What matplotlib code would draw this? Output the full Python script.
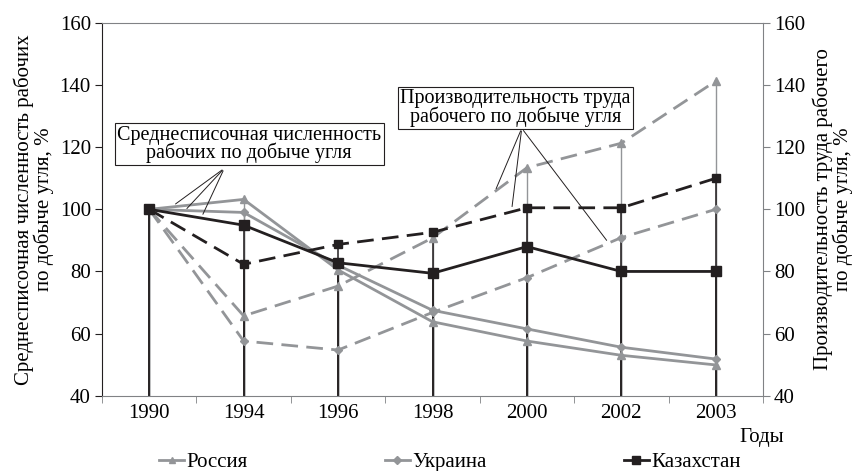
import matplotlib
matplotlib.use("Agg")
import matplotlib.pyplot as plt

plt.rcParams['font.family'] = ['Liberation Serif', 'DejaVu Serif']

# Данные (1990 = 100%)
years = ['1990', '1994', '1996', '1998', '2000', '2002', '2003']
rus_emp = [100, 103.2, 80.5, 63.8, 57.6, 53.0, 49.9]
ukr_emp = [100, 99.0, 82.0, 67.5, 61.5, 55.6, 51.8]
kaz_emp = [100, 94.9, 82.8, 79.4, 88.0, 80.0, 80.0]
rus_prod = [100, 65.7, 75.3, 90.8, 113.4, 121.3, 141.3]
ukr_prod = [100, 57.6, 54.7, 66.8, 78.0, 90.9, 100.0]
kaz_prod = [100, 82.3, 88.7, 92.6, 100.5, 100.5, 110.0]

gray = '#939598'
black = '#231f20'
x = list(range(len(years)))

fig = plt.figure(figsize=(8.55, 4.71), dpi=100)
ax = fig.add_axes([0.1193, 0.1599, 0.7731, 0.7913])
ax.set_xlim(-0.5, len(years) - 0.5)
ax.set_ylim(40, 160)

# линии проекции до оси
for vals in (rus_emp, ukr_emp, rus_prod, ukr_prod):
    ax.vlines(x, 40, vals, colors=gray, lw=1.0, zorder=1)
for vals in (kaz_emp, kaz_prod):
    ax.vlines(x, 40, vals, colors=black, lw=1.1, zorder=1.5)

# численность (сплошные)
ax.plot(x, rus_emp, color=gray, lw=2.0, marker='^', ms=6, zorder=3)
ax.plot(x, ukr_emp, color=gray, lw=2.0, marker='D', ms=4.5, zorder=3)
ax.plot(x, kaz_emp, color=black, lw=2.0, marker='s', ms=7.5, zorder=4)
# производительность (пунктир)
ax.plot(x, rus_prod, color=gray, lw=2.0, dashes=(6, 3), marker='^', ms=6, zorder=3)
ax.plot(x, ukr_prod, color=gray, lw=2.0, dashes=(6, 3), marker='D', ms=4.5, zorder=3)
ax.plot(x, kaz_prod, color=black, lw=2.0, dashes=(6, 3), marker='s', ms=5.5, zorder=4)

# оси
ax.set_xticks(x)
ax.set_xticklabels(years)
ax.set_xticks([i - 0.5 for i in range(len(years) + 1)], minor=True)
ax.tick_params(axis='x', which='major', length=0, labelsize=15, pad=6)
ax.tick_params(axis='x', which='minor', length=5, color='#808285', direction='out')
ax.set_yticks(range(40, 161, 20))
ax.tick_params(axis='y', labelsize=15, length=5, direction='out', color=black, pad=3)
ax.spines['left'].set_color(black)
for s in ('top', 'bottom', 'right'):
    ax.spines[s].set_color('#808285')
ax.set_ylabel('Среднесписочная численность рабочих\nпо добыче угля, %', fontsize=15,
              linespacing=0.95, labelpad=4)

ax2 = ax.twinx()
ax2.set_ylim(40, 160)
ax2.set_yticks(range(40, 161, 20))
ax2.tick_params(axis='y', labelsize=15, length=5, direction='out', color='#808285', pad=3)
for s in ax2.spines.values():
    s.set_visible(False)
ax2.set_ylabel('Производительность труда рабочего\nпо добыче угля, %', fontsize=15,
               linespacing=0.95, labelpad=5)

# подписи-выноски
ax.text(1.06, 121.0, 'Среднесписочная численность\nрабочих по добыче угля', fontsize=14.5,
        ha='center', va='center', linespacing=0.85, zorder=6,
        bbox=dict(boxstyle='square,pad=0.12', fc='white', ec=black, lw=0.8))
for end in [(0.255, 101.2), (0.379, 99.6), (0.556, 97.6)]:
    ax.annotate('', xy=end, xytext=(0.795, 113.2),
                arrowprops=dict(arrowstyle='-', color=black, lw=0.7), zorder=5)

ax.text(3.88, 132.6, 'Производительность труда\nрабочего по добыче угля', fontsize=14.5,
        ha='center', va='center', linespacing=0.85, zorder=6,
        bbox=dict(boxstyle='square,pad=0.12', fc='white', ec=black, lw=0.8))
for end in [(3.662, 105.8), (3.839, 100.0), (4.862, 89.3)]:
    ax.annotate('', xy=end, xytext=(3.945, 126.1),
                arrowprops=dict(arrowstyle='-', color=black, lw=0.7), zorder=5)

fig.text(0.891, 0.072, 'Годы', fontsize=15, ha='center', va='center')

# легенда
h1, = ax.plot([], [], color=gray, lw=2.0, marker='^', ms=5)
h2, = ax.plot([], [], color=gray, lw=2.0, marker='D', ms=4)
h3, = ax.plot([], [], color=black, lw=2.0, marker='s', ms=6)
fig.legend([h1, h2, h3], ['Россия', 'Украина', 'Казахстан'], loc='center',
           bbox_to_anchor=(0.526, 0.018), ncol=3, frameon=False, fontsize=15,
           handlelength=1.2, handletextpad=0.1, columnspacing=6.6, borderpad=0)

fig.savefig('out.png', dpi=100)
